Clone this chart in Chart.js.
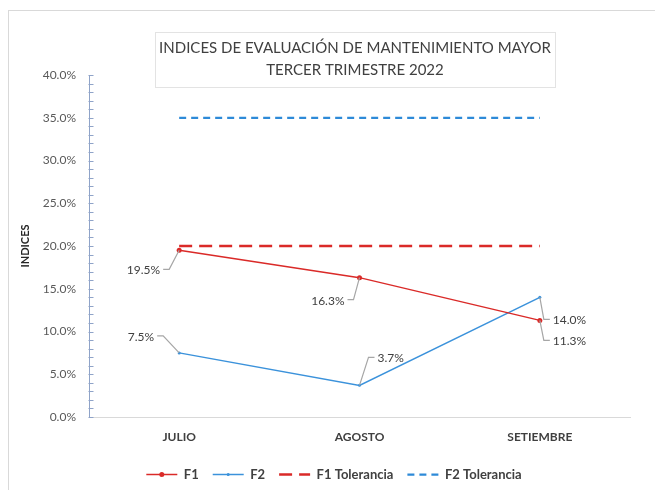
<!DOCTYPE html>
<html>
<head>
<meta charset="utf-8">
<script src="https://cdn.jsdelivr.net/npm/chart.js@4"></script>
<style>
html, body { margin: 0; padding: 0; background: #fff; }
#frame { position: absolute; left: 8px; top: 10px; width: 700px; height: 600px; border: 1px solid #d9d9d9; }
#wrap { position: absolute; left: 0; top: 0; width: 655px; height: 490px; }
</style>
</head>
<body>
<div id="frame"></div>
<div id="wrap"><canvas id="chart" width="655" height="490"></canvas></div>
<script>
// chart data
const months = ['JULIO', 'AGOSTO', 'SETIEMBRE'];
const f1 = [19.5, 16.3, 11.3];
const f2 = [7.5, 3.7, 14.0];
const f1Tol = [20, 20, 20];
const f2Tol = [35, 35, 35];
const titleLines = ['INDICES DE EVALUACIÓN DE MANTENIMIENTO MAYOR', 'TERCER TRIMESTRE 2022'];

const RED = '#DA2A28';
const BLUE = '#2E8AD8';
const TEXT = '#404040';
const FONT = 'Lato, "Open Sans", sans-serif';

// where each data label sits relative to its point (elbow of the leader line, text side)
const labelLayout = [
    [{ dx: -10, dy: 19, dir: -1 }, { dx: -6, dy: 22, dir: -1 }, { dx: 4, dy: 20, dir: 1 }],
    [{ dx: -16, dy: -17, dir: -1 }, { dx: 9, dy: -28, dir: 1 }, { dx: 4, dy: 22, dir: 1 }]
];

// boxed title at the top
const titleBox = {
    id: 'titleBox',
    afterDraw(chart) {
        const ctx = chart.ctx;
        ctx.save();
        ctx.strokeStyle = '#e3e3e3';
        ctx.lineWidth = 1;
        ctx.strokeRect(155.5, 32.5, 400, 55);
        ctx.fillStyle = TEXT;
        ctx.font = '15px ' + FONT;
        ctx.textAlign = 'center';
        ctx.textBaseline = 'middle';
        ctx.fillText(titleLines[0], 355, 48);
        ctx.fillText(titleLines[1], 355, 70);
        ctx.restore();
    }
};

// small tick marks on the value axis, one per 1%
const minorTicks = {
    id: 'minorTicks',
    afterDraw(chart) {
        const y = chart.scales.y;
        const ctx = chart.ctx;
        const x0 = Math.round(y.right) + 0.5;
        ctx.save();
        ctx.strokeStyle = '#8FA3C8';
        ctx.lineWidth = 1;
        ctx.beginPath();
        for (let v = y.min; v <= y.max; v += 1) {
            const py = Math.round(y.getPixelForValue(v)) + 0.5;
            ctx.moveTo(x0 - 1, py);
            ctx.lineTo(x0 + 4, py);
        }
        ctx.stroke();
        ctx.restore();
    }
};

// data labels with grey leader lines
const leaderLabels = {
    id: 'leaderLabels',
    afterDatasetsDraw(chart) {
        const ctx = chart.ctx;
        ctx.save();
        ctx.font = '12px ' + FONT;
        ctx.textBaseline = 'middle';
        [0, 1].forEach(di => {
            const meta = chart.getDatasetMeta(di);
            const values = chart.data.datasets[di].data;
            meta.data.forEach((pt, i) => {
                const lay = labelLayout[di][i];
                const ex = pt.x + lay.dx, ey = pt.y + lay.dy;
                ctx.strokeStyle = '#a6a6a6';
                ctx.lineWidth = 1.2;
                ctx.beginPath();
                ctx.moveTo(pt.x, pt.y);
                ctx.lineTo(ex, ey);
                ctx.lineTo(ex + lay.dir * 6, ey);
                ctx.stroke();
                ctx.fillStyle = TEXT;
                ctx.textAlign = lay.dir < 0 ? 'right' : 'left';
                ctx.fillText(values[i].toFixed(1) + '%', ex + lay.dir * 9, ey + 1);
            });
        });
        ctx.restore();
    }
};

// marker dots on the legend samples of F1 and F2
const legendDots = {
    id: 'legendDots',
    afterDraw(chart) {
        const boxes = chart.legend.legendHitBoxes;
        const ctx = chart.ctx;
        [[0, RED, 2.5], [1, '#3B92DB', 1.5]].forEach(([i, color, r]) => {
            const b = boxes[i];
            if (!b) return;
            ctx.save();
            ctx.fillStyle = color;
            ctx.beginPath();
            ctx.arc(b.left + 15.5, b.top + b.height / 2, r, 0, Math.PI * 2);
            ctx.fill();
            ctx.restore();
        });
    }
};

new Chart(document.getElementById('chart'), {
    type: 'line',
    data: {
        labels: months,
        datasets: [
            { label: 'F1', data: f1, borderColor: RED, backgroundColor: RED, borderWidth: 1.5, pointRadius: 2.5, pointBorderWidth: 0, tension: 0 },
            { label: 'F2', data: f2, borderColor: '#3B92DB', backgroundColor: '#3B92DB', borderWidth: 1.5, pointRadius: 1.5, pointBorderWidth: 0, tension: 0 },
            { label: 'F1 Tolerancia', data: f1Tol, borderColor: RED, backgroundColor: RED, borderWidth: 2.5, borderDash: [13, 7], pointRadius: 0 },
            { label: 'F2 Tolerancia', data: f2Tol, borderColor: BLUE, backgroundColor: BLUE, borderWidth: 2.25, borderDash: [7, 5], pointRadius: 0 }
        ]
    },
    options: {
        responsive: false,
        animation: false,
        layout: { padding: { left: 38, top: 75, right: 25, bottom: 0 } },
        scales: {
            x: {
                offset: true,
                grid: { display: false },
                border: { color: '#d9d9d9' },
                ticks: { color: TEXT, padding: 5, font: { family: FONT, size: 12, weight: 'bold' } },
                afterFit: s => { s.height = 37; }
            },
            y: {
                min: 0,
                max: 40,
                grid: { display: false },
                border: { color: '#8FA3C8' },
                ticks: {
                    stepSize: 5,
                    color: '#595959',
                    padding: 5,
                    font: { family: FONT, size: 12 },
                    callback: v => v.toFixed(1) + '%'
                },
                title: { display: true, text: 'INDICES', color: '#262626', padding: { top: -19, bottom: 0 }, font: { family: FONT, size: 11, weight: 'bold' } },
                afterFit: s => { s.width = 51; }
            }
        },
        plugins: {
            legend: {
                position: 'bottom',
                maxHeight: 36,
                labels: {
                    usePointStyle: true,
                    pointStyleWidth: 31,
                    padding: 14,
                    color: TEXT,
                    font: { family: FONT, size: 13, weight: 'bold' },
                    generateLabels: chart => chart.data.datasets.map((ds, i) => ({
                        text: ds.label,
                        datasetIndex: i,
                        hidden: false,
                        pointStyle: 'line',
                        strokeStyle: ds.borderColor,
                        fillStyle: ds.borderColor,
                        fontColor: TEXT,
                        lineWidth: ds.borderWidth,
                        lineDash: ds.borderDash || [],
                        lineCap: 'butt'
                    }))
                }
            },
            tooltip: { enabled: false }
        }
    },
    plugins: [titleBox, minorTicks, leaderLabels, legendDots]
});
</script>
</body>
</html>
